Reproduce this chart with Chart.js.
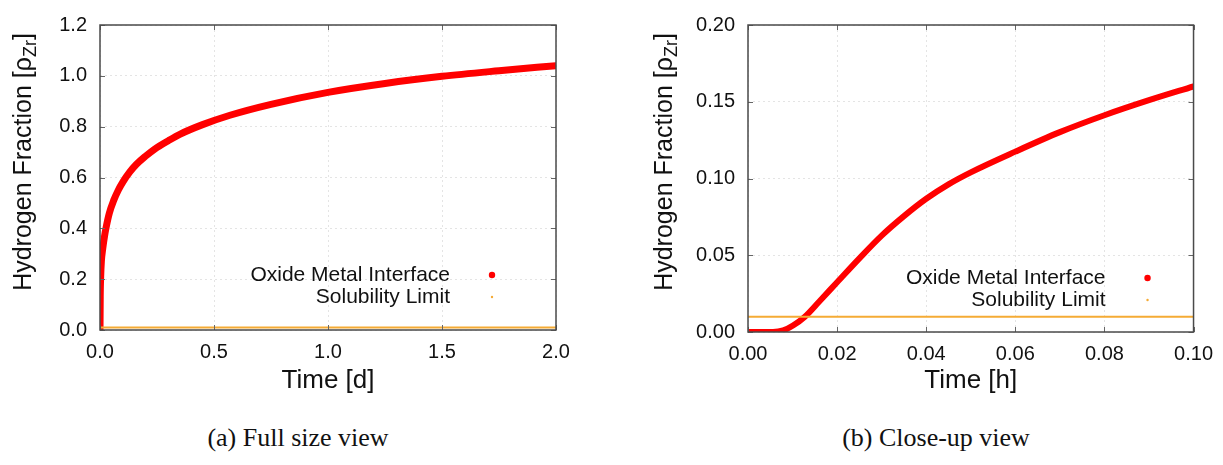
<!DOCTYPE html>
<html lang="en">
  <head>
    <meta charset="UTF-8">
    <title>Hydrogen Fraction at the Oxide Metal Interface</title>
    <script src="https://cdn.jsdelivr.net/npm/chart.js"></script>
    <style>
      body {
        margin: 0;
        width: 1223px;
        height: 465px;
        background: #fff;
        position: relative;
        overflow: hidden;
      }

      canvas {
        position: absolute;
        top: 0;
      }

      #fullChart {
        left: 0;
      }

      #closeChart {
        left: 611px;
      }

      .caption {
        position: absolute;
        top: 423px;
        font-family: "Liberation Serif", "Times New Roman", serif;
        font-size: 26px;
        color: #111;
        text-align: center;
        width: 400px;
      }
    </style>
  </head>
  <body>
    <canvas id="fullChart" width="611" height="400"></canvas>
    <canvas id="closeChart" width="612" height="400"></canvas>
    <div class="caption" style="left: 98px;">(a) Full size view</div>
    <div class="caption" style="left: 736px;">(b) Close-up view</div>
    <script>
      // full size view, time in days
      const fullTime = [0, 0.001, 0.003, 0.006, 0.012, 0.02, 0.026, 0.041, 0.06, 0.08, 0.10, 0.13, 0.16, 0.20, 0.24, 0.30, 0.35, 0.45, 0.57, 0.75, 1.0, 1.25, 1.5, 1.75, 2.0];
      const fullFraction = [0, 0.13, 0.21, 0.27, 0.32, 0.37, 0.40, 0.46, 0.51, 0.55, 0.582, 0.621, 0.652, 0.684, 0.712, 0.745, 0.77, 0.808, 0.845, 0.888, 0.935, 0.97, 0.998, 1.02, 1.04];

      // close-up view, time in hours
      const closeTime = [0, 0.003, 0.0056, 0.0079, 0.0101, 0.0127, 0.016, 0.020, 0.025, 0.030, 0.035, 0.040, 0.045, 0.050, 0.060, 0.070, 0.080, 0.090, 0.100];
      const closeFraction = [0, 0, 0, 0.001, 0.0042, 0.0098, 0.0199, 0.0324, 0.048, 0.0628, 0.0755, 0.0868, 0.0962, 0.104, 0.1175, 0.1302, 0.1412, 0.151, 0.16];

      const solubilityLimit = 0.01;
      const seriesNames = ['Oxide Metal Interface', 'Solubility Limit'];

      const RED = '#ff0000';
      const ORANGE = '#f5ab35';
      const SANS = '"Liberation Sans", Arial, sans-serif';

      // frame, inward ticks, axis titles and the legend, drawn gnuplot style
      const decorPlugin = {
        id: 'decor',
        afterDraw(chart) {
          const opts = chart.options.plugins.decor;
          const { ctx, chartArea: a, scales } = chart;
          ctx.save();

          // inward tick marks on all four sides
          ctx.strokeStyle = '#666';
          ctx.lineWidth = 1;
          ctx.beginPath();
          scales.x.ticks.forEach(t => {
            const px = Math.round(scales.x.getPixelForValue(t.value)) + 0.5;
            ctx.moveTo(px, a.bottom); ctx.lineTo(px, a.bottom - 5);
            ctx.moveTo(px, a.top); ctx.lineTo(px, a.top + 5);
          });
          scales.y.ticks.forEach(t => {
            const py = Math.round(scales.y.getPixelForValue(t.value)) + 0.5;
            ctx.moveTo(a.left, py); ctx.lineTo(a.left + 5, py);
            ctx.moveTo(a.right, py); ctx.lineTo(a.right - 5, py);
          });
          ctx.stroke();

          // plot frame
          ctx.strokeStyle = '#4a4a4a';
          ctx.lineWidth = 1.5;
          ctx.strokeRect(a.left, a.top, a.right - a.left, a.bottom - a.top);

          // x axis title
          ctx.fillStyle = '#111';
          ctx.font = '26px ' + SANS;
          ctx.textAlign = 'center';
          ctx.textBaseline = 'middle';
          ctx.fillText(opts.xTitle, (a.left + a.right) / 2, 381);

          // y axis title with subscript
          const main = 'Hydrogen Fraction [\u03c1';
          const sub = 'Zr';
          const close = ']';
          ctx.font = '25px ' + SANS;
          const wMain = ctx.measureText(main).width;
          const wClose = ctx.measureText(close).width;
          ctx.font = '18px ' + SANS;
          const wSub = ctx.measureText(sub).width;
          const total = wMain + wSub + wClose;
          ctx.translate(opts.yTitleX, 162);
          ctx.rotate(-Math.PI / 2);
          ctx.textAlign = 'left';
          ctx.textBaseline = 'alphabetic';
          const x0 = -total / 2;
          ctx.font = '25px ' + SANS;
          ctx.fillText(main, x0, 0);
          ctx.font = '18px ' + SANS;
          ctx.fillText(sub, x0 + wMain, 5);
          ctx.font = '25px ' + SANS;
          ctx.fillText(close, x0 + wMain + wSub, 0);
          ctx.setTransform(1, 0, 0, 1, 0, 0);

          // legend, text right aligned with the marker to its right
          ctx.font = '21px ' + SANS;
          ctx.textAlign = 'right';
          ctx.textBaseline = 'middle';
          ctx.fillStyle = '#111';
          const tx = a.right - opts.legendText;
          const dx = a.right - opts.legendDot;
          ctx.fillText(seriesNames[0], tx, opts.legendY[0]);
          ctx.fillText(seriesNames[1], tx, opts.legendY[1]);
          ctx.fillStyle = RED;
          ctx.beginPath();
          ctx.arc(dx, opts.legendY[0], 3.2, 0, Math.PI * 2);
          ctx.fill();
          ctx.fillStyle = ORANGE;
          ctx.beginPath();
          ctx.arc(dx, opts.legendY[1], 1.2, 0, Math.PI * 2);
          ctx.fill();

          ctx.restore();
        }
      };

      function makeChart(id, cfg) {
        const ctx = document.getElementById(id).getContext('2d');
        const curve = cfg.time.map((t, i) => ({ x: t, y: cfg.fraction[i] }));
        const limit = [
          { x: cfg.xMin, y: solubilityLimit },
          { x: cfg.xMax, y: solubilityLimit }
        ];
        return new Chart(ctx, {
          type: 'line',
          data: {
            datasets: [{
              label: seriesNames[1],
              data: limit,
              borderColor: ORANGE,
              borderWidth: 2,
              pointRadius: 0
            }, {
              label: seriesNames[0],
              data: curve,
              borderColor: RED,
              borderWidth: cfg.lineWidth,
              borderCapStyle: 'round',
              borderJoinStyle: 'round',
              cubicInterpolationMode: 'monotone',
              pointRadius: 0
            }]
          },
          options: {
            responsive: false,
            animation: false,
            devicePixelRatio: 1,
            layout: {
              padding: { top: cfg.top, right: cfg.rightPad, bottom: 0, left: 0 }
            },
            plugins: {
              legend: { display: false },
              tooltip: { enabled: false },
              decor: cfg.decor
            },
            scales: {
              x: {
                type: 'linear',
                min: cfg.xMin,
                max: cfg.xMax,
                afterFit: s => { s.height = 400 - cfg.bottom; },
                grid: { color: '#e4e4e4', lineWidth: 1, drawTicks: false },
                border: { display: false, dash: [2, 3] },
                ticks: {
                  stepSize: cfg.xStep,
                  padding: 10,
                  color: '#111',
                  font: { family: SANS, size: 20 },
                  maxRotation: 0,
                  callback: v => v.toFixed(cfg.xDigits)
                }
              },
              y: {
                min: 0,
                max: cfg.yMax,
                afterFit: s => { s.width = cfg.left; },
                grid: { color: '#e4e4e4', lineWidth: 1, drawTicks: false },
                border: { display: false, dash: [2, 3] },
                ticks: {
                  stepSize: cfg.yStep,
                  padding: 13,
                  color: '#111',
                  font: { family: SANS, size: 20 },
                  callback: v => v.toFixed(cfg.yDigits)
                }
              }
            }
          },
          plugins: [decorPlugin]
        });
      }

      makeChart('fullChart', {
        time: fullTime,
        fraction: fullFraction,
        xMin: 0, xMax: 2, xStep: 0.5, xDigits: 1,
        yMax: 1.2, yStep: 0.2, yDigits: 1,
        left: 100, top: 14, bottom: 330, rightPad: 55,
        lineWidth: 7,
        decor: {
          xTitle: 'Time [d]',
          yTitleX: 31,
          legendText: 106,
          legendDot: 64,
          legendY: [275, 297]
        }
      });

      makeChart('closeChart', {
        time: closeTime,
        fraction: closeFraction,
        xMin: 0, xMax: 0.1, xStep: 0.02, xDigits: 2,
        yMax: 0.2, yStep: 0.05, yDigits: 2,
        left: 137, top: 13, bottom: 332, rightPad: 27,
        lineWidth: 6,
        decor: {
          xTitle: 'Time [h]',
          yTitleX: 61,
          legendText: 88,
          legendDot: 46,
          legendY: [278, 300]
        }
      });
    </script>
  </body>
</html>
